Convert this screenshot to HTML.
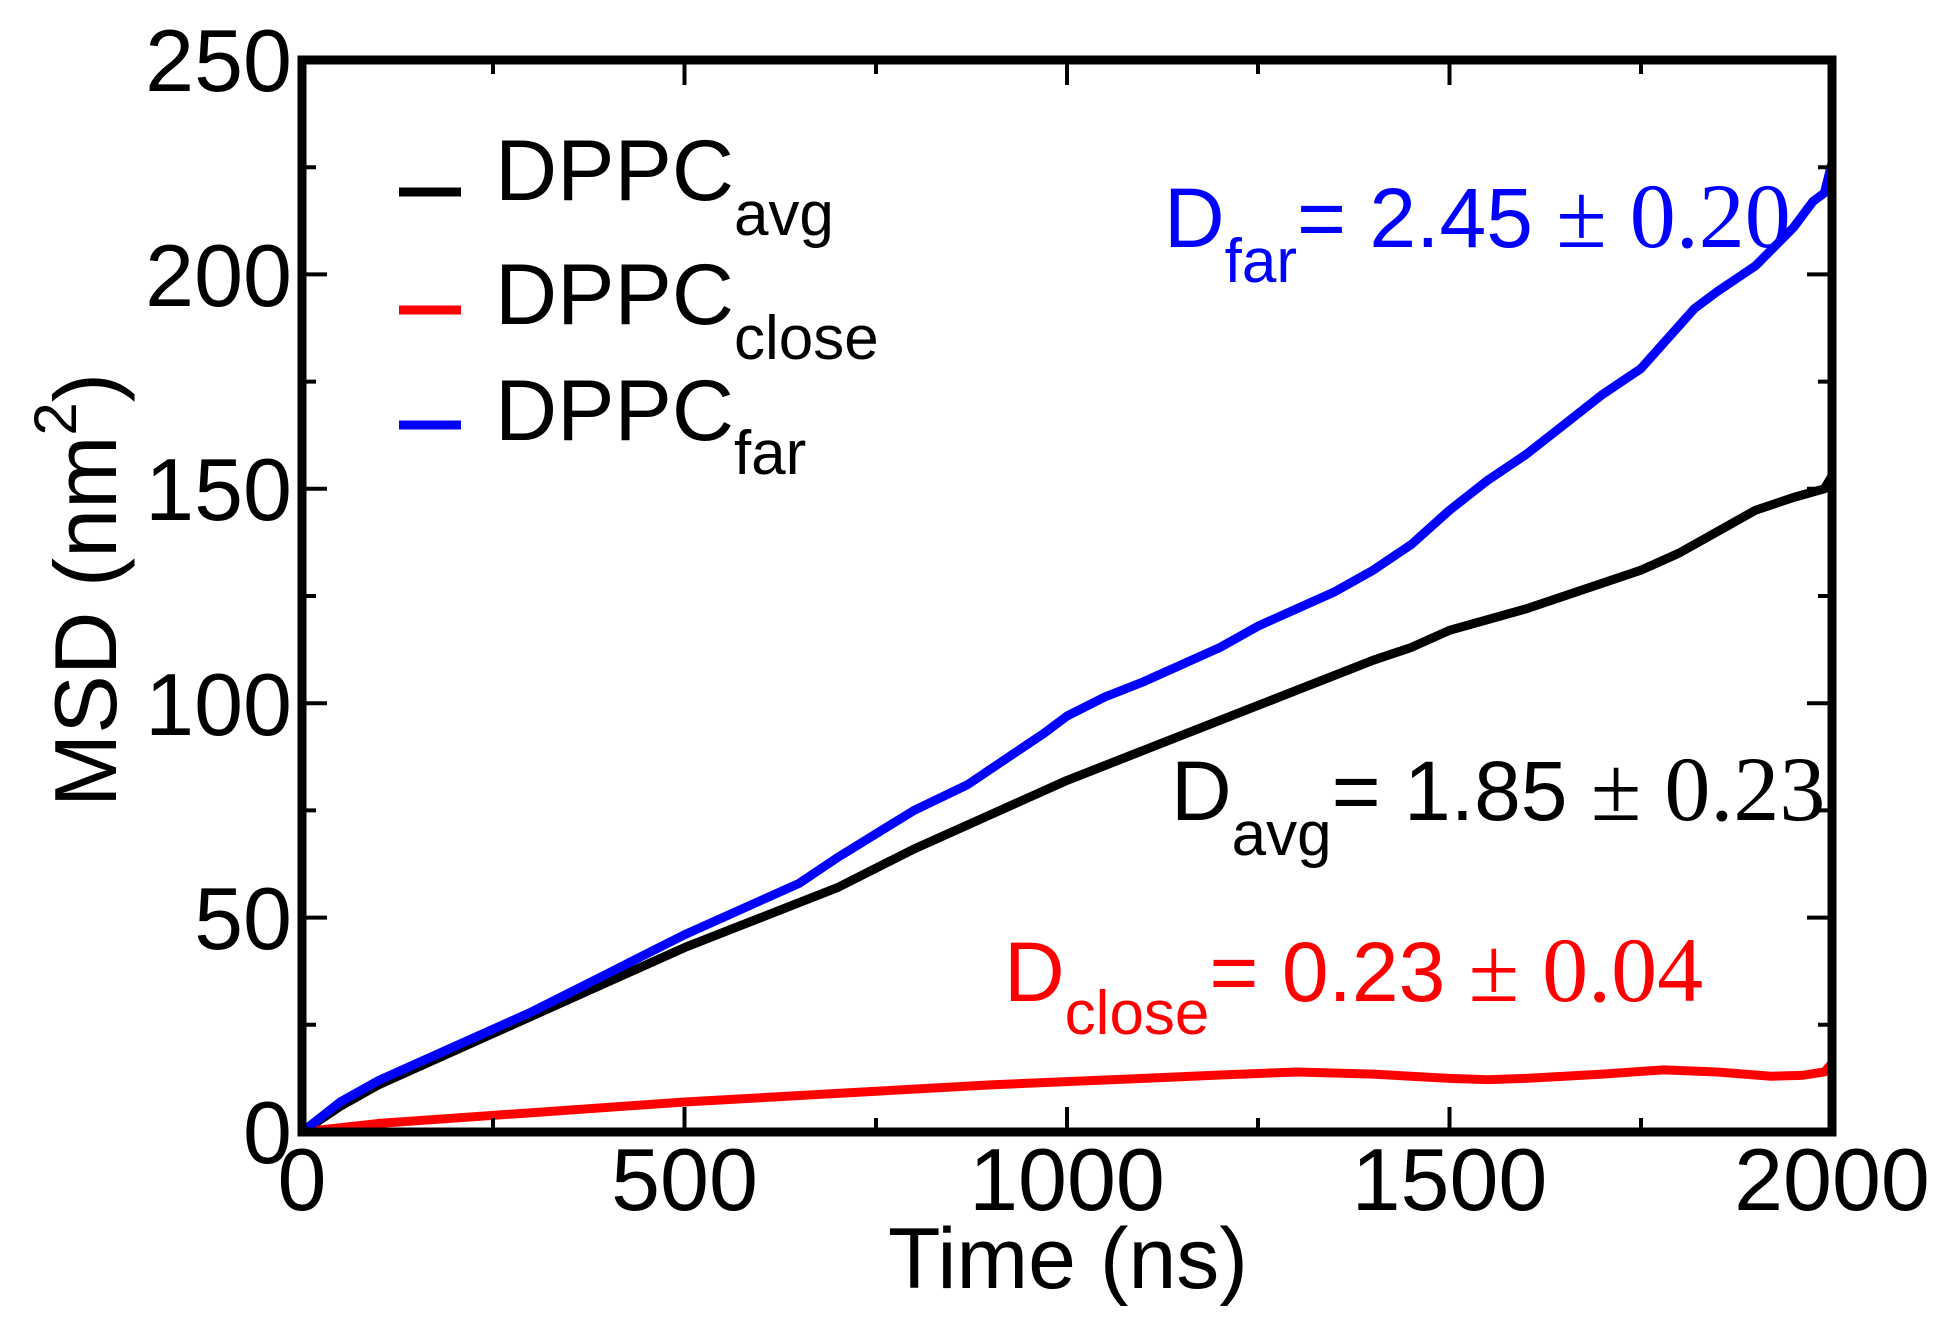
<!DOCTYPE html>
<html><head><meta charset="utf-8"><style>
html,body{margin:0;padding:0;background:#fff;}
svg{display:block;font-family:"Liberation Sans",sans-serif;}
</style></head><body>
<svg width="1942" height="1317" viewBox="0 0 1942 1317" xmlns="http://www.w3.org/2000/svg">
<rect width="1942" height="1317" fill="#fff"/>
<g transform="translate(302,1132) scale(0.765,-4.288)" fill="none" stroke-width="9" stroke-linejoin="round" stroke-linecap="round">
<polyline vector-effect="non-scaling-stroke" stroke="#000" points="0,0 50,6 100,11 200,19 300,27 400,35 500,43 600,50 700,57 800,66 900,74 1000,82 1100,89 1200,96 1300,103 1400,110 1450,113 1500,117 1600,122 1700,128 1750,131 1800,135 1850,140 1900,145 1950,148 1990,150 2000,153"/>
<polyline vector-effect="non-scaling-stroke" stroke="#ff0000" points="0,0 100,2 300,4.5 500,7 700,9 900,11 1100,12.5 1200,13.3 1300,14 1400,13.5 1500,12.5 1550,12.2 1600,12.5 1700,13.5 1780,14.5 1850,14 1920,13 1960,13.2 1990,14 2000,16"/>
<polyline vector-effect="non-scaling-stroke" stroke="#0000ff" points="0,0 50,7 100,12 200,20 300,28 400,37 500,46 600,54 650,58 700,64 800,75 870,81 920,87 970,93 1000,97 1050,101.5 1100,105 1200,113 1250,118 1300,122 1350,126 1400,131 1450,137 1500,145 1550,152 1600,158 1650,165 1700,172 1750,178 1780,184 1820,192 1850,196 1900,202 1950,211 1975,217 1990,219 2000,226"/>
</g>
<g stroke="#000" stroke-width="4">
<path d="M302,1132v-25M684.5,1132v-25M1067,1132v-25M1449.5,1132v-25M1832,1132v-25
M493,1132v-14M876,1132v-14M1258,1132v-14M1641,1132v-14
M302,60v25M684.5,60v25M1067,60v25M1449.5,60v25M1832,60v25
M493,60v14M876,60v14M1258,60v14M1641,60v14"/>
<path d="M302,1132h25M302,917.6h25M302,703.2h25M302,488.8h25M302,274.4h25M302,60h25
M302,1024.8h14M302,810.4h14M302,596h14M302,381.6h14M302,167.2h14
M1832,1132h-25M1832,917.6h-25M1832,703.2h-25M1832,488.8h-25M1832,274.4h-25M1832,60h-25
M1832,1024.8h-14M1832,810.4h-14M1832,596h-14M1832,381.6h-14M1832,167.2h-14"/>
</g>
<rect x="302" y="60" width="1530" height="1072" fill="none" stroke="#000" stroke-width="9"/>
<g font-size="88" fill="#000">
<g text-anchor="end">
<text x="292" y="1163">0</text>
<text x="292" y="949">50</text>
<text x="292" y="735">100</text>
<text x="292" y="520">150</text>
<text x="292" y="306">200</text>
<text x="292" y="91">250</text>
</g>
<g text-anchor="middle">
<text x="302" y="1210">0</text>
<text x="684.5" y="1210">500</text>
<text x="1067" y="1210">1000</text>
<text x="1449.5" y="1210">1500</text>
<text x="1832" y="1210">2000</text>
<text x="1068" y="1288" font-size="86">Time (ns)</text>
<text transform="translate(116,590) rotate(-90)" font-size="88">MSD (nm<tspan font-size="60" dy="-40">2</tspan><tspan dy="40">)</tspan></text>
</g>
</g>
<g stroke-width="9">
<line x1="399" y1="192" x2="461" y2="192" stroke="#000"/>
<line x1="399" y1="310" x2="461" y2="310" stroke="#ff0000"/>
<line x1="399" y1="425" x2="461" y2="425" stroke="#0000ff"/>
</g>
<g font-size="86" fill="#000">
<text x="495" y="200">DPPC<tspan font-size="62" dy="35">avg</tspan></text>
<text x="495" y="324">DPPC<tspan font-size="62" dy="35">close</tspan></text>
<text x="495" y="440">DPPC<tspan font-size="62" dy="34">far</tspan></text>
</g>
<text x="1164" y="247" font-size="84" fill="#0000ff">D<tspan font-size="62" dy="35">far</tspan><tspan dy="-35">= 2.45 </tspan><tspan font-family="Liberation Serif,serif" font-size="92">± 0.20</tspan></text>
<text x="1171" y="820" font-size="84" fill="#000">D<tspan font-size="62" dy="35">avg</tspan><tspan dy="-35">= 1.85 </tspan><tspan font-family="Liberation Serif,serif" font-size="92">± 0.23</tspan></text>
<text x="1004" y="1001" font-size="84" fill="#ff0000">D<tspan font-size="62" dy="33">close</tspan><tspan dy="-33">= 0.23 </tspan><tspan font-family="Liberation Serif,serif" font-size="92">± 0.04</tspan></text>
</svg>
</body></html>
